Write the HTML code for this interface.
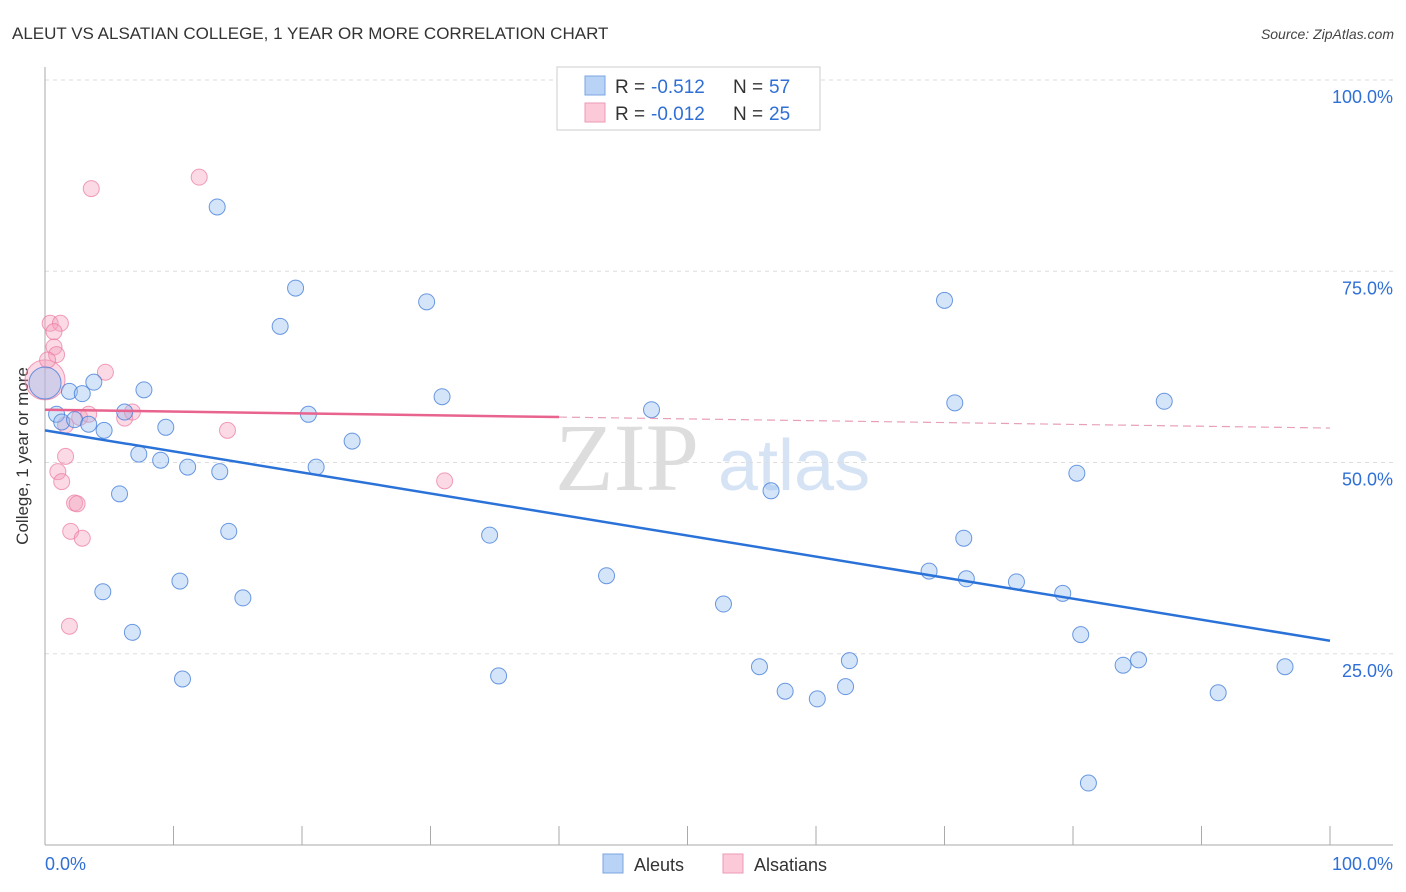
<!DOCTYPE html>
<html><head><meta charset="utf-8"><style>
body{margin:0;background:#fff;font-family:"Liberation Sans",sans-serif}
svg{display:block}
</style></head><body>
<svg id="c" width="1406" height="892" xmlns="http://www.w3.org/2000/svg">
<text x="12" y="39" font-size="17" fill="#333">ALEUT VS ALSATIAN COLLEGE, 1 YEAR OR MORE CORRELATION CHART</text>
<text x="1394" y="39" font-size="14" fill="#444" font-style="italic" text-anchor="end">Source: ZipAtlas.com</text>
<text x="28" y="456" font-size="17" fill="#333" text-anchor="middle" transform="rotate(-90 28 456)">College, 1 year or more</text>
<text x="555" y="490" font-size="96" fill="#ddd" font-family="Liberation Serif,serif">ZIP</text>
<text x="718" y="490" font-size="72" fill="#d5e3f5">atlas</text>
<g id="grid"></g><g id="pts"></g><g id="lines"></g>
<g>
<rect x="557" y="67" width="263" height="63" fill="#fff" stroke="#ccc"/>
<rect x="585" y="76" width="20" height="19" fill="#b8d3f5" stroke="#7aa6e0"/>
<rect x="585" y="103" width="20" height="19" fill="#fbc9d8" stroke="#ee9ab5"/>
<text x="615" y="93" font-size="19" fill="#333">R =</text>
<text x="651" y="93" font-size="19" fill="#2f6fd6">-0.512</text>
<text x="733" y="93" font-size="19" fill="#333">N =</text>
<text x="769" y="93" font-size="19" fill="#2f6fd6">57</text>
<text x="615" y="120" font-size="19" fill="#333">R =</text>
<text x="651" y="120" font-size="19" fill="#2f6fd6">-0.012</text>
<text x="733" y="120" font-size="19" fill="#333">N =</text>
<text x="769" y="120" font-size="19" fill="#2f6fd6">25</text>
</g>
<g>
<rect x="603" y="854" width="20" height="19" fill="#b8d3f5" stroke="#7aa6e0"/>
<text x="634" y="871" font-size="18" fill="#333">Aleuts</text>
<rect x="723" y="854" width="20" height="19" fill="#fbc9d8" stroke="#ee9ab5"/>
<text x="754" y="871" font-size="18" fill="#333">Alsatians</text>
</g>
</svg>
<script>
const blueX=[0,0.9,1.3,1.9,2.3,2.9,3.4,3.8,4.6,5.8,4.5,6.2,6.8,7.7,7.3,9.0,9.4,11.1,10.5,10.7,13.4,13.6,14.3,15.4,18.3,19.5,20.5,21.1,23.9,29.7,30.9,34.6,35.3,43.7,47.2,52.8,55.6,56.5,57.6,60.1,62.3,62.6,68.8,70.0,70.8,71.5,71.7,75.6,79.2,80.3,80.6,81.2,83.9,85.1,87.1,91.3,96.5];
const blueY=[60.4,56.3,55.3,59.3,55.6,59.0,55.0,60.5,54.2,45.9,33.1,56.6,27.8,59.5,51.1,50.3,54.6,49.4,34.5,21.7,83.4,48.8,41.0,32.3,67.8,72.8,56.3,49.4,52.8,71.0,58.6,40.5,22.1,35.2,56.9,31.5,23.3,46.3,20.1,19.1,20.7,24.1,35.8,71.2,57.8,40.1,34.8,34.4,32.9,48.6,27.5,8.1,23.5,24.2,58.0,19.9,23.3];
const pinkX=[0,0.4,1.2,0.7,0.7,0.9,0.2,3.6,12.0,4.7,1.6,1.0,1.3,2.3,2.5,2.0,2.9,1.9,2.7,3.4,1.6,6.2,6.8,14.2,31.1];
const pinkY=[60.8,68.2,68.2,67.1,65.1,64.1,63.4,85.8,87.3,61.8,50.8,48.8,47.5,44.7,44.6,41.0,40.1,28.6,55.9,56.3,54.9,55.8,56.6,54.2,47.6];
const blueTrend=[54.2,26.7];
const pinkTrend=[56.9,54.5];
const yTicks=[100,75,50,25];
const xTicks=[0,10,20,30,40,50,60,70,80,90,100];
const NS="http://www.w3.org/2000/svg";
const sx=v=>45+v*12.85, sy=v=>845-v*7.65;
function mk(t,a,p){const e=document.createElementNS(NS,t);for(const k in a)e.setAttribute(k,a[k]);p.appendChild(e);return e;}
const grid=document.getElementById('grid');
yTicks.forEach(v=>{
 const l=mk('line',{x1:45,x2:1393,y1:sy(v),y2:sy(v),stroke:'#ddd','stroke-dasharray':'4 4'},grid);
 
 
 const t=mk('text',{x:1393,y:sy(v)+23,'font-size':18,fill:'#2f6fd6','text-anchor':'end'},grid);t.textContent=v.toFixed(1)+'%';
 
 
});
mk('line',{x1:45,x2:45,y1:67,y2:845,stroke:'#aaa'},grid);
mk('line',{x1:45,x2:1393,y1:845,y2:845,stroke:'#aaa'},grid);
xTicks.forEach(v=>{const l=mk('line',{x1:sx(v),x2:sx(v),y1:826,y2:845,stroke:'#aaa'},grid);
 
 });
let t=mk('text',{x:45,y:870,'font-size':18,fill:'#2f6fd6'},grid);t.textContent='0.0%';


t=mk('text',{x:1393,y:870,'font-size':18,fill:'#2f6fd6','text-anchor':'end'},grid);t.textContent='100.0%';


const pts=document.getElementById('pts');
pinkX.forEach((x,i)=>{const c=mk('circle',{cx:sx(x),cy:sy(pinkY[i]),r:i==0?20:8,fill:'rgba(245,160,190,0.4)',stroke:'rgba(235,120,160,0.7)','stroke-width':1},pts);
 
 });
blueX.forEach((x,i)=>{const c=mk('circle',{cx:sx(x),cy:sy(blueY[i]),r:i==0?16:8,fill:'rgba(150,190,240,0.4)',stroke:'rgba(60,120,215,0.75)','stroke-width':1},pts);
 
 });
const lines=document.getElementById('lines');
let l=mk('line',{x1:sx(0),y1:sy(blueTrend[0]),x2:sx(100),y2:sy(blueTrend[1]),stroke:'#2a72d8','stroke-width':2.5},lines);


const pm=pinkTrend[0]+(pinkTrend[1]-pinkTrend[0])*0.4;
l=mk('line',{x1:sx(0),y1:sy(pinkTrend[0]),x2:sx(40),y2:sy(pm),stroke:'#e8638e','stroke-width':2.5},lines);


l=mk('line',{x1:sx(40),y1:sy(pm),x2:sx(100),y2:sy(pinkTrend[1]),stroke:'#e8a0b8','stroke-width':1.2,'stroke-dasharray':'8 5'},lines);


</script>
</body></html>
